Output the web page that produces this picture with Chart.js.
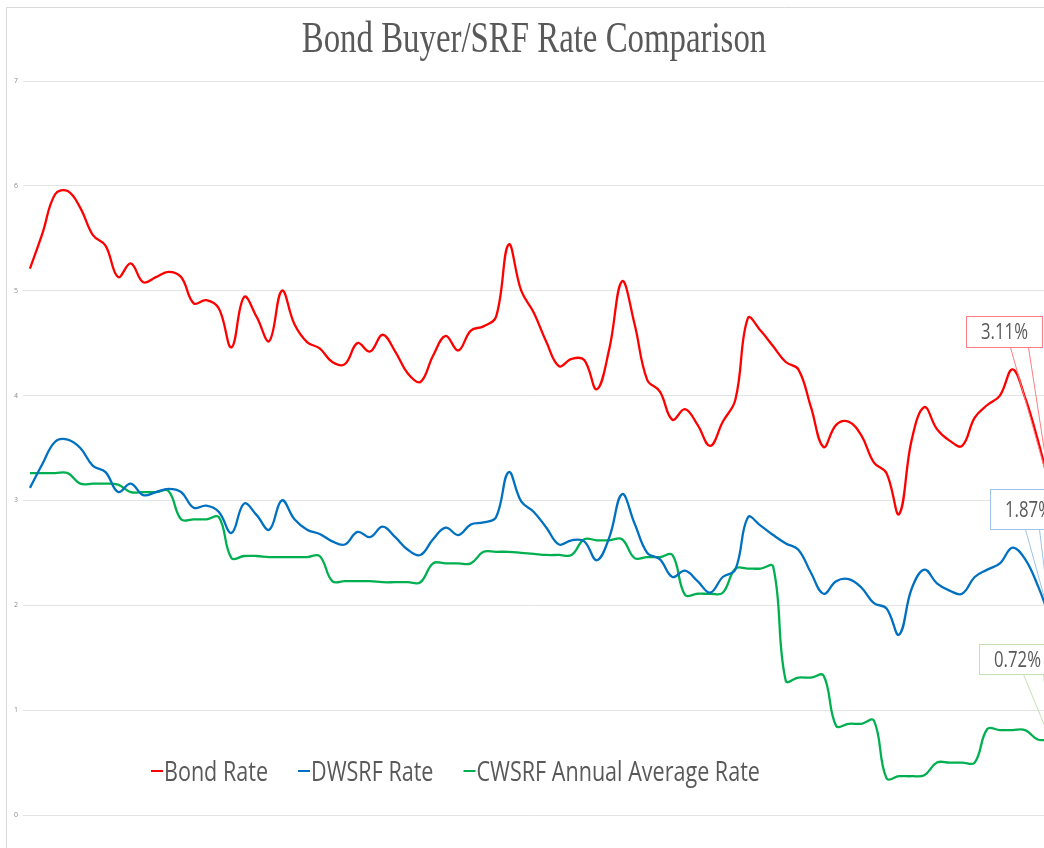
<!DOCTYPE html>
<html>
<head>
<meta charset="utf-8">
<script src="https://cdn.jsdelivr.net/npm/chart.js@4.4.1/dist/chart.umd.min.js"></script>
<style>
  html, body { margin: 0; padding: 0; background: #fff; }
  #wrap { width: 1044px; height: 848px; }
</style>
</head>
<body>
<div id="wrap"><canvas id="rateChart" width="1044" height="848"></canvas></div>
<script>
// quarterly readings, oldest first
const bondRate = [5.21, 5.55, 5.92, 5.95, 5.79, 5.53, 5.43, 5.13, 5.26, 5.08,
  5.13, 5.18, 5.13, 4.88, 4.91, 4.83, 4.46, 4.94, 4.75, 4.52,
  5.0, 4.68, 4.51, 4.45, 4.32, 4.30, 4.50, 4.42, 4.58, 4.42,
  4.21, 4.13, 4.38, 4.57, 4.43, 4.62, 4.66, 4.75, 5.44, 5.0,
  4.79, 4.51, 4.28, 4.35, 4.34, 4.06, 4.45, 5.09, 4.68, 4.15,
  4.04, 3.77, 3.87, 3.72, 3.52, 3.75, 3.96, 4.74, 4.62, 4.47,
  4.32, 4.25, 3.89, 3.51, 3.72, 3.75, 3.62, 3.36, 3.26, 2.87,
  3.58, 3.89, 3.68, 3.57, 3.52, 3.79, 3.91, 4.0, 4.25, 3.98,
  3.58, 3.11];

const dwsrfRate = [3.12, 3.35, 3.56, 3.58, 3.50, 3.33, 3.27, 3.08, 3.16, 3.05,
  3.08, 3.11, 3.08, 2.93, 2.95, 2.89, 2.69, 2.97, 2.86, 2.72,
  3.0, 2.82, 2.72, 2.68, 2.61, 2.58, 2.70, 2.65, 2.75, 2.65,
  2.53, 2.48, 2.63, 2.74, 2.67, 2.77, 2.79, 2.84, 3.27, 2.99,
  2.89, 2.74, 2.58, 2.62, 2.61, 2.43, 2.65, 3.06, 2.78, 2.50,
  2.44, 2.27, 2.33, 2.23, 2.12, 2.27, 2.34, 2.84, 2.76, 2.67,
  2.59, 2.53, 2.31, 2.11, 2.23, 2.25, 2.17, 2.02, 1.97, 1.72,
  2.16, 2.34, 2.21, 2.14, 2.11, 2.27, 2.34, 2.40, 2.55, 2.44,
  2.19, 1.87];

const cwsrfRate = [3.26, 3.26, 3.26, 3.26, 3.16, 3.16, 3.16, 3.15, 3.08, 3.08,
  3.08, 3.09, 2.82, 2.82, 2.82, 2.84, 2.45, 2.47, 2.47, 2.46,
  2.46, 2.46, 2.46, 2.47, 2.23, 2.23, 2.23, 2.23, 2.22, 2.22,
  2.22, 2.22, 2.40, 2.40, 2.40, 2.40, 2.51, 2.51, 2.51, 2.50,
  2.49, 2.48, 2.48, 2.48, 2.63, 2.62, 2.62, 2.63, 2.45, 2.46,
  2.46, 2.48, 2.10, 2.11, 2.11, 2.12, 2.35, 2.35, 2.35, 2.37,
  1.28, 1.31, 1.31, 1.33, 0.85, 0.87, 0.87, 0.90, 0.35, 0.37,
  0.37, 0.38, 0.50, 0.50, 0.50, 0.50, 0.82, 0.81, 0.81, 0.81,
  0.72, 0.72];

const seriesNames = ['Bond Rate', 'DWSRF Rate', 'CWSRF Annual Average Rate'];
const seriesColors = ['#ff0000', '#0070c0', '#00b050'];
const calloutColors = ['#ff7c80', '#9dc3e6', '#c5e0b4'];
const yTicks = [0, 1, 2, 3, 4, 5, 6, 7];

const toPoints = arr => arr.map((v, i) => ({ x: i, y: v }));

// label box offsets from the last point, and where the two leader lines leave the box
const callouts = [
  { dx: -84, dy: -173, w: 76, h: 31, lead: [44, 62] },
  { dx: -60, dy: -130, w: 76, h: 40, lead: [35, 49] },
  { dx: -71, dy: -96, w: 76, h: 30, lead: [44, 64] }
];

const decorPlugin = {
  id: 'decor',
  beforeDraw(chart) {
    const ctx = chart.ctx;
    ctx.save();
    ctx.fillStyle = '#fff';
    ctx.fillRect(0, 0, chart.width, chart.height);
    ctx.strokeStyle = '#d9d9d9';
    ctx.lineWidth = 1;
    ctx.beginPath();
    ctx.moveTo(6.5, chart.height);
    ctx.lineTo(6.5, 7.5);
    ctx.lineTo(chart.width, 7.5);
    ctx.stroke();
    ctx.restore();
  },
  afterDraw(chart) {
    const ctx = chart.ctx;

    // title, squeezed like the original
    ctx.save();
    ctx.fillStyle = '#595959';
    ctx.font = '45px "Liberation Serif"';
    ctx.textAlign = 'center';
    ctx.textBaseline = 'alphabetic';
    ctx.translate(534, 52);
    ctx.scale(0.73, 1);
    ctx.fillText('Bond Buyer/SRF Rate Comparison', 0, 0);
    ctx.restore();

    // legend inside plot
    ctx.save();
    ctx.font = '28px "Open Sans"';
    ctx.textBaseline = 'alphabetic';
    const sx = 0.77;
    let x = 151;
    const midY = 771;
    chart.data.datasets.forEach(ds => {
      ctx.strokeStyle = ds.borderColor;
      ctx.lineWidth = 2;
      ctx.beginPath();
      ctx.moveTo(x, midY);
      ctx.lineTo(x + 12, midY);
      ctx.stroke();
      ctx.fillStyle = '#595959';
      ctx.save();
      ctx.translate(x + 13, 781);
      ctx.scale(sx, 1);
      ctx.fillText(ds.label, 0, 0);
      ctx.restore();
      x += 13 + ctx.measureText(ds.label).width * sx + 30;
    });
    ctx.restore();

    // end-value callouts
    const xs = chart.scales.x, ys = chart.scales.y;
    chart.data.datasets.forEach((ds, i) => {
      const last = ds.data[ds.data.length - 1];
      const px = xs.getPixelForValue(last.x);
      const py = ys.getPixelForValue(last.y);
      const c = callouts[i];
      const left = Math.round(px + c.dx) + 0.5;
      const top = Math.round(py + c.dy) + 0.5;
      ctx.save();
      ctx.strokeStyle = calloutColors[i];
      ctx.lineWidth = 1;
      ctx.beginPath();
      c.lead.forEach(off => {
        ctx.moveTo(left + off, top + c.h);
        ctx.lineTo(px, py);
      });
      ctx.stroke();
      ctx.fillStyle = '#fff';
      ctx.fillRect(left, top, c.w, c.h);
      ctx.strokeRect(left, top, c.w, c.h);
      ctx.fillStyle = '#595959';
      ctx.font = '22px "Open Sans"';
      ctx.textAlign = 'center';
      ctx.textBaseline = 'middle';
      ctx.translate(left + c.w / 2, top + c.h / 2 + 1);
      ctx.scale(0.76, 1);
      ctx.fillText(last.y.toFixed(2) + '%', 0, 0);
      ctx.restore();
    });
  }
};

const ctx = document.getElementById('rateChart');
new Chart(ctx, {
  type: 'line',
  data: {
    datasets: [bondRate, dwsrfRate, cwsrfRate].map((arr, i) => ({
      label: seriesNames[i],
      data: toPoints(arr),
      borderColor: seriesColors[i],
      backgroundColor: seriesColors[i],
      borderWidth: 2.3,
      pointRadius: 0,
      tension: 0.4,
      fill: false
    }))
  },
  options: {
    responsive: false,
    animation: false,
    devicePixelRatio: 1,
    layout: { padding: { left: 9, right: 0, top: 81, bottom: 33 } },
    plugins: {
      legend: { display: false },
      title: { display: false },
      tooltip: { enabled: false }
    },
    scales: {
      x: {
        type: 'linear',
        display: false,
        min: -0.55,
        max: 80.5
      },
      y: {
        min: 0,
        max: 7,
        afterBuildTicks: axis => { axis.ticks = yTicks.map(v => ({ value: v })); },
        border: { display: false },
        grid: { color: '#e3e3e3', lineWidth: 1, drawTicks: false },
        ticks: {
          padding: 5,
          color: '#8c8c8c',
          font: { family: 'Open Sans', size: 7 }
        }
      }
    }
  },
  plugins: [decorPlugin]
});
</script>
</body>
</html>
